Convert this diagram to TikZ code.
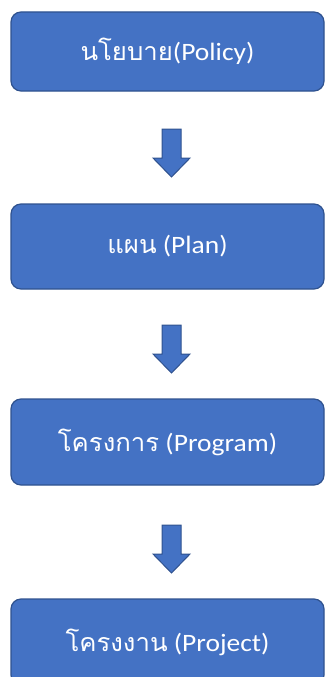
\documentclass[tikz,border=0pt]{standalone}
\usepackage{fontspec}
\setmainfont[FakeStretch=1.1]{Carlito}
\newfontfamily\thaifont[Script=Thai,FakeStretch=1.03]{Loma}

\definecolor{boxblue}{HTML}{4472C4}
\definecolor{boxline}{HTML}{2F528F}

\begin{document}
\begin{tikzpicture}[
        x=1pt, y=-1pt,
        stage/.style={rectangle, rounded corners=10pt, fill=boxblue, draw=boxline, line width=1.2pt, minimum width=313pt, inner sep=0pt, text=white, font=\fontsize{25}{30}\selectfont},
        blockarrow/.pic={
            \draw[fill=boxblue, draw=boxline, line width=1pt]
                (-9.5,-24) -- (9.5,-24) -- (9.5,5) -- (18.5,5) -- (0,24) -- (-18.5,5) -- (-9.5,5) -- cycle;
        },
    ]
    \clip (0,0) rectangle (325,677);
    % BOXES
    \node[stage, minimum height=79pt] (policy) at (167.5,51.5) {{\thaifont นโยบาย}(Policy)};
    \node[stage, minimum height=85pt] (plan) at (167.5,246.5) {{\thaifont แผน} (Plan)};
    \node[stage, minimum height=86pt] (program) at (167.5,442) {{\thaifont โครงการ} (Program)};
    \node[stage, minimum height=86pt] (project) at (167.5,642) {{\thaifont โครงงาน} (Project)};
    % ARROWS
    \pic (arr1) at (171.5,153) {blockarrow};
    \pic (arr2) at (171.5,349) {blockarrow};
    \pic (arr3) at (171.5,549) {blockarrow};
\end{tikzpicture}
\end{document}
